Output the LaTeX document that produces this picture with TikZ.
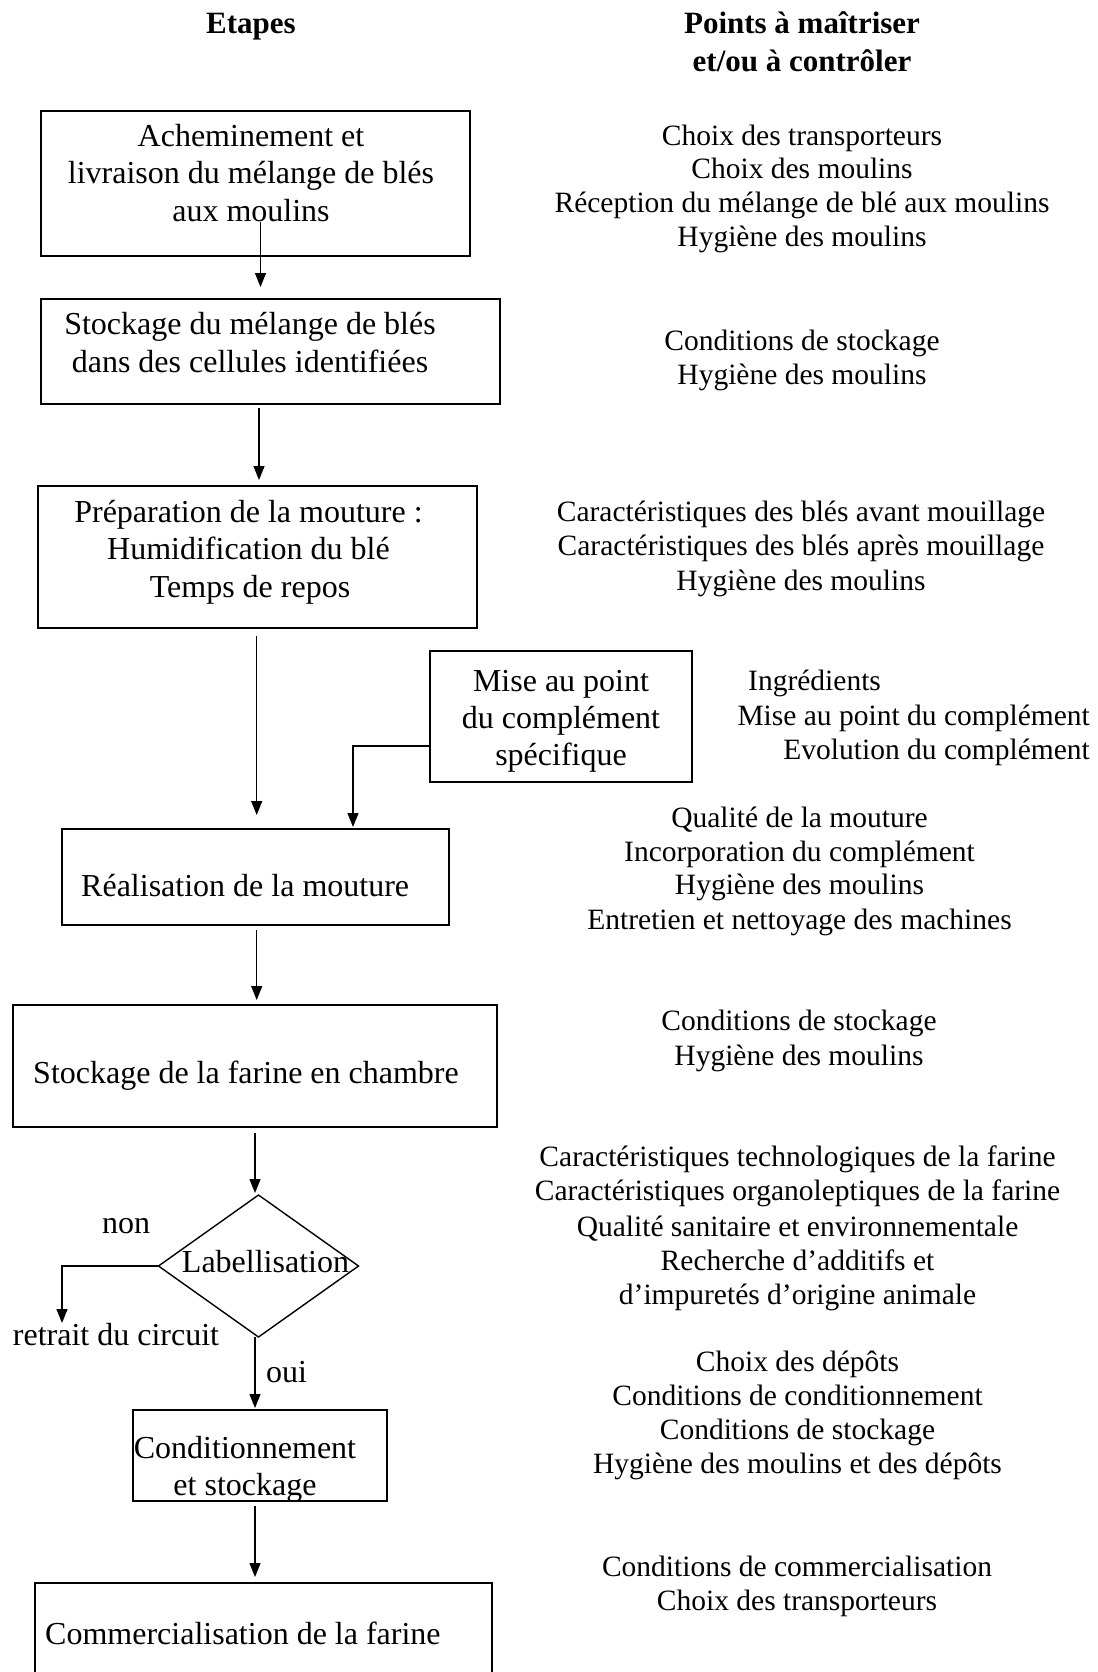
\documentclass[tikz,border=0pt]{standalone}
\usepackage{fontspec}
\setmainfont{Liberation Serif}
\usetikzlibrary{arrows.meta,shapes.geometric}
\tikzset{
  box/.style={draw, line width=1.4pt, inner sep=0pt, outer sep=0pt},
  arr/.style={line width=1.2pt, -{Triangle[length=14pt,width=11pt]}},
  bt/.style={inner sep=0pt, anchor=base, font=\fontsize{32}{37}\selectfont},
  btl/.style={bt, anchor=base west},
  rt/.style={inner sep=0pt, anchor=base, font=\fontsize{29.5}{34}\selectfont},
  rtl/.style={rt, anchor=base west},
  rtr/.style={rt, anchor=base east},
  hd/.style={inner sep=0pt, anchor=base, font=\fontsize{31}{36}\selectfont\bfseries},
}
\begin{document}
\begin{tikzpicture}[x=1pt,y=-1pt]
\useasboundingbox (0,0) rectangle (1097,1672);
\clip (0,0) rectangle (1097,1672);
\fill[white] (0,0) rectangle (1097,1672);

% headers
\node[hd] (h1) at (251,33.5) {Etapes};
\node[hd] (h2) at (802,33.5) {Points à maîtriser};
\node[hd] (h3) at (802,71.8) {et/ou à contrôler};

% boxes
\node[box, minimum width=429pt, minimum height=145pt] (b1) at (255.5,183.5) {};
\node[box, minimum width=459pt, minimum height=105pt] (b2) at (270.5,351.5) {};
\node[box, minimum width=439pt, minimum height=142pt] (b3) at (257.5,557) {};
\node[box, minimum width=262pt, minimum height=131pt] (bc) at (561,716.5) {};
\node[box, minimum width=387pt, minimum height=96pt] (b4) at (255.5,877) {};
\node[box, minimum width=484pt, minimum height=122pt] (b5) at (255,1066) {};
\node[box, diamond, minimum width=200pt, minimum height=142pt] (lab) at (258.5,1266) {};
\node[box, minimum width=254pt, minimum height=91pt] (b6) at (260,1455.5) {};
\node[box, minimum width=457pt, minimum height=134pt] (b7) at (263.5,1650) {};

% box texts
\node[bt] (t1a) at (251,146.5) {Acheminement et};
\node[bt] (t1b) at (251,183.8) {livraison du mélange de blés};
\node[bt] (t1c) at (251,221.1) {aux moulins};
\node[bt] (t2a) at (250,334.5) {Stockage du mélange de blés};
\node[bt] (t2b) at (250,372) {dans des cellules identifiées};
\node[bt] (t3a) at (248.5,522.5) {Préparation de la mouture :};
\node[bt] (t3b) at (248.5,559.8) {Humidification du blé};
\node[bt] (t3c) at (250,597) {Temps de repos};
\node[bt] (tca) at (561,691.7) {Mise au point};
\node[bt] (tcb) at (561,728.7) {du complément};
\node[bt] (tcc) at (561,765) {spécifique};
\node[btl] (t4) at (81,896.7) {Réalisation de la mouture};
\node[bt] (t5) at (246,1083.3) {Stockage de la farine en chambre};
\node[bt] (tl) at (265.5,1272) {Labellisation};
\node[bt] (tnon) at (126,1233.5) {non};
\node[btl] (tret) at (12.7,1345) {retrait du circuit};
\node[btl] (toui) at (266,1382) {oui};
\node[bt] (t6a) at (245,1458.5) {Conditionnement};
\node[bt] (t6b) at (245,1495) {et stockage};
\node[btl] (t7) at (45,1644) {Commercialisation de la farine};

% right column
\node[rt] (r1a) at (802,145.5) {Choix des transporteurs};
\node[rt] (r1b) at (802,178.5) {Choix des moulins};
\node[rt] (r1c) at (802,212.6) {Réception du mélange de blé aux moulins};
\node[rt] (r1d) at (802,246.7) {Hygiène des moulins};
\node[rt] (r2a) at (802,350.2) {Conditions de stockage};
\node[rt] (r2b) at (802,384.3) {Hygiène des moulins};
\node[rt] (r3a) at (801,521.8) {Caractéristiques des blés avant mouillage};
\node[rt] (r3b) at (801,555.9) {Caractéristiques des blés après mouillage};
\node[rt] (r3c) at (801,590) {Hygiène des moulins};
\node[rtl] (r4a) at (748,690.2) {Ingrédients};
\node[rtr] (r4b) at (1090,725.4) {Mise au point du complément};
\node[rtr] (r4c) at (1090,759.5) {Evolution du complément};
\node[rt] (r5a) at (799.5,827.8) {Qualité de la mouture};
\node[rt] (r5b) at (799.5,861.9) {Incorporation du complément};
\node[rt] (r5c) at (799.5,894.9) {Hygiène des moulins};
\node[rt] (r5d) at (799.5,929) {Entretien et nettoyage des machines};
\node[rt] (r6a) at (799,1030.3) {Conditions de stockage};
\node[rt] (r6b) at (799,1065.5) {Hygiène des moulins};
\node[rt] (r7a) at (797.5,1166.8) {Caractéristiques technologiques de la farine};
\node[rt] (r7b) at (797.5,1200.9) {Caractéristiques organoleptiques de la farine};
\node[rt] (r7c) at (797.5,1236) {Qualité sanitaire et environnementale};
\node[rt] (r7d) at (797.5,1270.2) {Recherche d’additifs et};
\node[rt] (r7e) at (797.5,1304.3) {d’impuretés d’origine animale};
\node[rt] (r8a) at (797.5,1371.5) {Choix des dépôts};
\node[rt] (r8b) at (797.5,1405.6) {Conditions de conditionnement};
\node[rt] (r8c) at (797.5,1439.7) {Conditions de stockage};
\node[rt] (r8d) at (797.5,1473.8) {Hygiène des moulins et des dépôts};
\node[rt] (r9a) at (797,1576.2) {Conditions de commercialisation};
\node[rt] (r9b) at (797,1610.3) {Choix des transporteurs};

% connector helpers
\coordinate (s1) at (260.5,222);
\coordinate (x2) at (259,0);
\coordinate (x3) at (256.7,0);
\coordinate (yc) at (0,746);
\coordinate (xc) at (353,0);
\coordinate (x4) at (256.7,0);
\coordinate (x5) at (255,0);
\coordinate (rc) at (62,1323);
\coordinate (xo) at (255,0);
\coordinate (x6) at (255,0);

% connectors
\draw[arr, shorten >=12pt] (s1) -- (b2.north -| s1);
\draw[arr, shorten <=4pt, shorten >=6pt] (b2.south -| x2) -- (b3.north -| x2);
\draw[arr, shorten <=8pt, shorten >=14pt] (b3.south -| x3) -- (b4.north -| x3);
\draw[arr, shorten >=2pt] (bc.west |- yc) -| (b4.north -| xc);
\draw[arr, shorten <=5pt, shorten >=5pt] (b4.south -| x4) -- (b5.north -| x4);
\draw[arr, shorten <=6pt, shorten >=2pt] (b5.south -| x5) -- (lab.north -| x5);
\draw[arr] (lab.west) -| (rc);
\draw[arr, shorten >=2pt] (lab.south -| xo) -- (b6.north -| xo);
\draw[arr, shorten <=5pt, shorten >=6pt] (b6.south -| x6) -- (b7.north -| x6);
\end{tikzpicture}
\end{document}
